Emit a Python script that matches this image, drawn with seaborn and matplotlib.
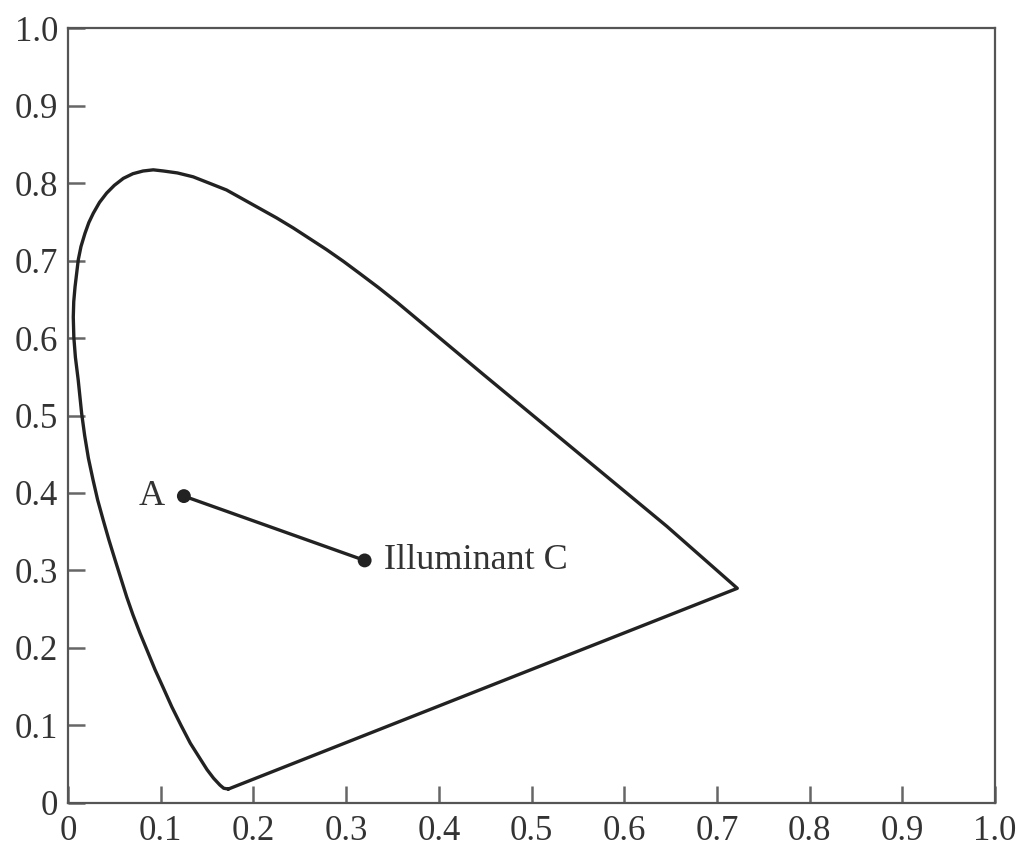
import pandas as pd
import matplotlib.pyplot as plt
import seaborn as sns

# spectral locus, from the violet end up and round to the red end
locus_x = [0.173, 0.168, 0.164, 0.157, 0.150, 0.141, 0.132, 0.122, 0.112, 0.103,
           0.0939, 0.086, 0.0777, 0.070, 0.0633, 0.057, 0.0507, 0.044, 0.038, 0.032,
           0.027, 0.022, 0.018, 0.0147, 0.011, 0.008, 0.0063, 0.0057, 0.0062, 0.0076,
           0.0111, 0.0140, 0.0183, 0.0225, 0.0273, 0.034, 0.0417, 0.050, 0.0597, 0.070,
           0.081, 0.092, 0.103, 0.118, 0.135, 0.152, 0.171, 0.189, 0.207, 0.225,
           0.243, 0.261, 0.279, 0.297, 0.315, 0.335, 0.355, 0.448, 0.538, 0.646,
           0.722]
locus_y = [0.018, 0.019, 0.023, 0.032, 0.043, 0.060, 0.077, 0.100, 0.124, 0.148,
           0.172, 0.195, 0.219, 0.243, 0.266, 0.290, 0.314, 0.340, 0.365, 0.391,
           0.417, 0.445, 0.474, 0.503, 0.546, 0.575, 0.601, 0.627, 0.647, 0.666,
           0.701, 0.718, 0.735, 0.749, 0.761, 0.775, 0.787, 0.797, 0.806, 0.812,
           0.8155, 0.817, 0.8155, 0.813, 0.808, 0.800, 0.791, 0.779, 0.767, 0.755,
           0.742, 0.728, 0.714, 0.699, 0.683, 0.665, 0.646, 0.553, 0.464, 0.357,
           0.277]

point_names = ['A', 'Illuminant C']
point_x = [0.125, 0.320]
point_y = [0.396, 0.313]

tick_vals = [0, 0.1, 0.2, 0.3, 0.4, 0.5, 0.6, 0.7, 0.8, 0.9, 1.0]
tick_labels = ['0', '0.1', '0.2', '0.3', '0.4', '0.5', '0.6', '0.7', '0.8', '0.9', '1.0']

sns.set_theme(style='white')
plt.rcParams['font.family'] = ['Liberation Serif', 'DejaVu Serif']

# close the locus with the purple line back to the start
df = pd.DataFrame({'x': locus_x + locus_x[:1], 'y': locus_y + locus_y[:1]})
pts = pd.DataFrame({'name': point_names, 'x': point_x, 'y': point_y})

fig = plt.figure(figsize=(10.24, 8.49), dpi=100)
ax = fig.add_axes([0.0664, 0.0542, 0.9053, 0.9128])

line_col = '#222222'
sns.lineplot(data=df, x='x', y='y', sort=False, estimator=None, color=line_col,
             linewidth=2.4, ax=ax)
sns.lineplot(data=pts, x='x', y='y', sort=False, estimator=None, color=line_col,
             linewidth=2.4, ax=ax)
sns.scatterplot(data=pts, x='x', y='y', color=line_col, s=100, edgecolor='none',
                zorder=5, ax=ax)

ax.text(point_x[0] - 0.021, point_y[0], point_names[0], ha='right', va='center',
        fontsize=26, color='#333333')
ax.text(point_x[1] + 0.021, point_y[1], point_names[1], ha='left', va='center',
        fontsize=26, color='#333333')

ax.set_xlim(0, 1)
ax.set_ylim(0, 1)
ax.set_xticks(tick_vals, tick_labels)
ax.set_yticks(tick_vals, tick_labels)
ax.set_xlabel('')
ax.set_ylabel('')
ax.tick_params(bottom=True, left=True, direction='in', length=12, width=1.8,
               colors='#666666', labelcolor='#333333', labelsize=25)
ax.tick_params(axis='x', pad=9)
ax.tick_params(axis='y', pad=7)
for s in ax.spines.values():
    s.set_color('#555555')
    s.set_linewidth(1.6)

plt.savefig('out.png', dpi=100)
